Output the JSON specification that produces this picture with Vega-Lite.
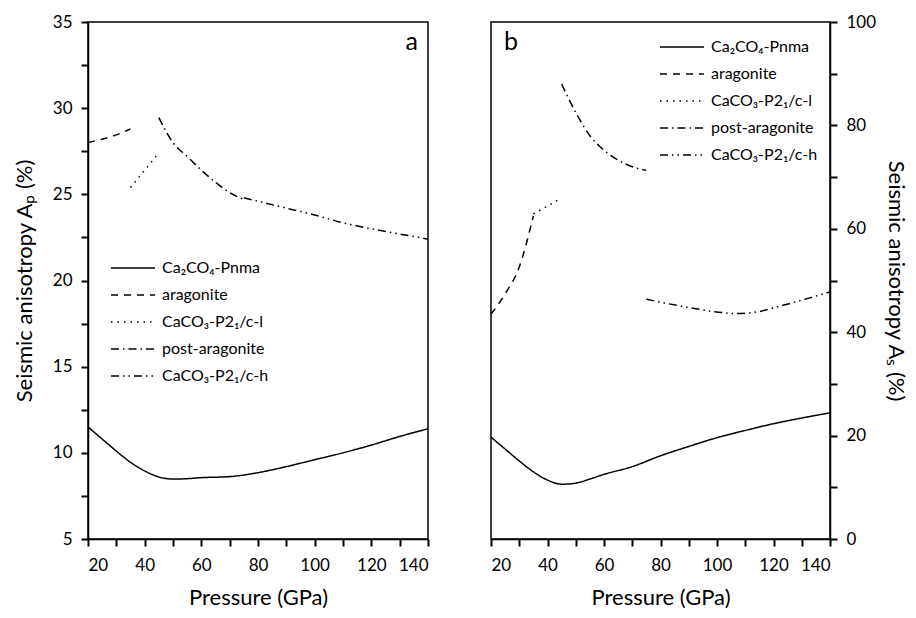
{
  "$schema": "https://vega.github.io/schema/vega-lite/v6.json",
  "padding": {"left": 12, "top": 12, "right": 4, "bottom": 4},
  "background": "white",
  "config": {
    "font": "Lato",
    "view": {"stroke": "black", "strokeWidth": 1.5},
    "axis": {
      "grid": false, "ticks": true, "domain": true, "zindex": 1,
      "domainColor": "black", "domainWidth": 1.5,
      "tickColor": "#000000", "tickWidth": 2, "tickSize": 7, "tickOpacity": 1,
      "labelColor": "black", "titleColor": "black",
      "labelFont": "Lato", "titleFont": "Lato",
      "labelFontSize": 17, "titleFontSize": 22, "titleFontWeight": "normal",
      "labelPadding": 9
    },
    "title": {"fontSize": 25, "fontWeight": "normal", "font": "Lato", "color": "black", "frame": "group", "offset": -42, "baseline": "alphabetic"},
    "legend": {
      "labelFont": "Lato", "labelFontSize": 16, "labelColor": "black",
      "symbolType": "stroke", "symbolSize": 1936, "symbolStrokeWidth": 1.5,
      "symbolStrokeColor": "black", "labelOffset": 6, "rowPadding": 11, "clipHeight": 16
    }
  },
  "datasets": {
    "a": [
      {"P": 20, "A": 11.5, "phase": "Ca₂CO₄-Pnma"},
      {"P": 25, "A": 10.8, "phase": "Ca₂CO₄-Pnma"},
      {"P": 30, "A": 10.1, "phase": "Ca₂CO₄-Pnma"},
      {"P": 35, "A": 9.45, "phase": "Ca₂CO₄-Pnma"},
      {"P": 40, "A": 8.95, "phase": "Ca₂CO₄-Pnma"},
      {"P": 45, "A": 8.6, "phase": "Ca₂CO₄-Pnma"},
      {"P": 50, "A": 8.48, "phase": "Ca₂CO₄-Pnma"},
      {"P": 55, "A": 8.5, "phase": "Ca₂CO₄-Pnma"},
      {"P": 60, "A": 8.56, "phase": "Ca₂CO₄-Pnma"},
      {"P": 70, "A": 8.62, "phase": "Ca₂CO₄-Pnma"},
      {"P": 80, "A": 8.85, "phase": "Ca₂CO₄-Pnma"},
      {"P": 90, "A": 9.2, "phase": "Ca₂CO₄-Pnma"},
      {"P": 100, "A": 9.6, "phase": "Ca₂CO₄-Pnma"},
      {"P": 110, "A": 10.0, "phase": "Ca₂CO₄-Pnma"},
      {"P": 120, "A": 10.45, "phase": "Ca₂CO₄-Pnma"},
      {"P": 130, "A": 10.95, "phase": "Ca₂CO₄-Pnma"},
      {"P": 140, "A": 11.4, "phase": "Ca₂CO₄-Pnma"},
      {"P": 20, "A": 28.0, "phase": "aragonite"},
      {"P": 25, "A": 28.2, "phase": "aragonite"},
      {"P": 30, "A": 28.45, "phase": "aragonite"},
      {"P": 35, "A": 28.8, "phase": "aragonite"},
      {"P": 35, "A": 25.4, "phase": "CaCO₃-P2₁/c-l"},
      {"P": 40, "A": 26.4, "phase": "CaCO₃-P2₁/c-l"},
      {"P": 45, "A": 27.4, "phase": "CaCO₃-P2₁/c-l"},
      {"P": 45, "A": 29.45, "phase": "post-aragonite"},
      {"P": 50, "A": 28.0, "phase": "post-aragonite"},
      {"P": 55, "A": 27.2, "phase": "post-aragonite"},
      {"P": 60, "A": 26.4, "phase": "post-aragonite"},
      {"P": 65, "A": 25.7, "phase": "post-aragonite"},
      {"P": 70, "A": 25.1, "phase": "post-aragonite"},
      {"P": 75, "A": 24.7, "phase": "post-aragonite"},
      {"P": 75, "A": 24.8, "phase": "CaCO₃-P2₁/c-h"},
      {"P": 80, "A": 24.6, "phase": "CaCO₃-P2₁/c-h"},
      {"P": 90, "A": 24.2, "phase": "CaCO₃-P2₁/c-h"},
      {"P": 100, "A": 23.8, "phase": "CaCO₃-P2₁/c-h"},
      {"P": 110, "A": 23.35, "phase": "CaCO₃-P2₁/c-h"},
      {"P": 120, "A": 23.0, "phase": "CaCO₃-P2₁/c-h"},
      {"P": 130, "A": 22.7, "phase": "CaCO₃-P2₁/c-h"},
      {"P": 140, "A": 22.4, "phase": "CaCO₃-P2₁/c-h"}
    ],
    "b": [
      {"P": 20, "A": 19.7, "phase": "Ca₂CO₄-Pnma"},
      {"P": 25, "A": 17.4, "phase": "Ca₂CO₄-Pnma"},
      {"P": 30, "A": 15.1, "phase": "Ca₂CO₄-Pnma"},
      {"P": 35, "A": 13.0, "phase": "Ca₂CO₄-Pnma"},
      {"P": 40, "A": 11.4, "phase": "Ca₂CO₄-Pnma"},
      {"P": 45, "A": 10.6, "phase": "Ca₂CO₄-Pnma"},
      {"P": 50, "A": 10.8, "phase": "Ca₂CO₄-Pnma"},
      {"P": 55, "A": 11.6, "phase": "Ca₂CO₄-Pnma"},
      {"P": 60, "A": 12.5, "phase": "Ca₂CO₄-Pnma"},
      {"P": 70, "A": 14.0, "phase": "Ca₂CO₄-Pnma"},
      {"P": 80, "A": 16.1, "phase": "Ca₂CO₄-Pnma"},
      {"P": 90, "A": 17.9, "phase": "Ca₂CO₄-Pnma"},
      {"P": 100, "A": 19.6, "phase": "Ca₂CO₄-Pnma"},
      {"P": 110, "A": 21.0, "phase": "Ca₂CO₄-Pnma"},
      {"P": 120, "A": 22.3, "phase": "Ca₂CO₄-Pnma"},
      {"P": 130, "A": 23.4, "phase": "Ca₂CO₄-Pnma"},
      {"P": 140, "A": 24.4, "phase": "Ca₂CO₄-Pnma"},
      {"P": 20, "A": 43.5, "phase": "aragonite"},
      {"P": 25, "A": 47.4, "phase": "aragonite"},
      {"P": 30, "A": 52.6, "phase": "aragonite"},
      {"P": 35, "A": 62.5, "phase": "aragonite"},
      {"P": 35, "A": 62.9, "phase": "CaCO₃-P2₁/c-l"},
      {"P": 40, "A": 64.4, "phase": "CaCO₃-P2₁/c-l"},
      {"P": 45, "A": 66.0, "phase": "CaCO₃-P2₁/c-l"},
      {"P": 45, "A": 88.0, "phase": "post-aragonite"},
      {"P": 50, "A": 82.5, "phase": "post-aragonite"},
      {"P": 55, "A": 78.0, "phase": "post-aragonite"},
      {"P": 60, "A": 75.2, "phase": "post-aragonite"},
      {"P": 65, "A": 73.3, "phase": "post-aragonite"},
      {"P": 70, "A": 72.0, "phase": "post-aragonite"},
      {"P": 75, "A": 71.3, "phase": "post-aragonite"},
      {"P": 75, "A": 46.4, "phase": "CaCO₃-P2₁/c-h"},
      {"P": 80, "A": 45.8, "phase": "CaCO₃-P2₁/c-h"},
      {"P": 90, "A": 44.8, "phase": "CaCO₃-P2₁/c-h"},
      {"P": 100, "A": 43.9, "phase": "CaCO₃-P2₁/c-h"},
      {"P": 107, "A": 43.6, "phase": "CaCO₃-P2₁/c-h"},
      {"P": 115, "A": 44.0, "phase": "CaCO₃-P2₁/c-h"},
      {"P": 120, "A": 44.7, "phase": "CaCO₃-P2₁/c-h"},
      {"P": 130, "A": 46.2, "phase": "CaCO₃-P2₁/c-h"},
      {"P": 140, "A": 47.8, "phase": "CaCO₃-P2₁/c-h"}
    ]
  },
  "spacing": 55,
  "resolve": {
    "scale": {"strokeDash": "independent", "y": "independent", "x": "independent"},
    "legend": {"strokeDash": "independent"},
    "axis": {"y": "independent", "x": "independent"}
  },
  "hconcat": [
    {
      "width": 340,
      "height": 517,
      "title": {"text": "a", "anchor": "end", "dx": -10},
      "data": {"name": "a"},
      "mark": {"type": "line", "color": "black", "strokeWidth": 1.5, "interpolate": "monotone"},
      "encoding": {
        "x": {
          "field": "P", "type": "quantitative",
          "scale": {"domain": [20, 140], "nice": false},
          "axis": {
            "title": "Pressure (GPa)", "titlePadding": 14, "labelPadding": 11,
            "values": [20, 30, 40, 50, 60, 70, 80, 90, 100, 110, 120, 130, 140],
            "labelOverlap": "parity", "labelSeparation": 8
          }
        },
        "y": {
          "field": "A", "type": "quantitative",
          "scale": {"domain": [5, 35], "nice": false},
          "axis": {
            "title": "Seismic anisotropy Aₚ (%)", "titlePadding": 16,
            "values": [5, 7.5, 10, 12.5, 15, 17.5, 20, 22.5, 25, 27.5, 30, 32.5, 35],
            "labelOverlap": "parity", "labelSeparation": 30
          }
        },
        "strokeDash": {
          "field": "phase", "type": "nominal",
          "scale": {
            "domain": ["Ca₂CO₄-Pnma", "aragonite", "CaCO₃-P2₁/c-l", "post-aragonite", "CaCO₃-P2₁/c-h"],
            "range": [[1, 0], [7, 6], [1.5, 5], [8, 4, 1.5, 4], [8, 4, 1.5, 4, 1.5, 4]]
          },
          "legend": {"title": null, "orient": "none", "legendX": 22, "legendY": 238}
        }
      }
    },
    {
      "width": 339,
      "height": 517,
      "title": {"text": "b", "anchor": "start", "dx": 13},
      "data": {"name": "b"},
      "mark": {"type": "line", "color": "black", "strokeWidth": 1.5, "interpolate": "monotone"},
      "encoding": {
        "x": {
          "field": "P", "type": "quantitative",
          "scale": {"domain": [20, 140], "nice": false},
          "axis": {
            "title": "Pressure (GPa)", "titlePadding": 14, "labelPadding": 11,
            "values": [20, 30, 40, 50, 60, 70, 80, 90, 100, 110, 120, 130, 140],
            "labelOverlap": "parity", "labelSeparation": 8
          }
        },
        "y": {
          "field": "A", "type": "quantitative",
          "scale": {"domain": [0, 100], "nice": false},
          "axis": {
            "orient": "right",
            "title": "Seismic anisotropy Aₛ (%)", "titlePadding": 8,
            "values": [0, 10, 20, 30, 40, 50, 60, 70, 80, 90, 100],
            "labelOverlap": "parity", "labelSeparation": 40
          }
        },
        "strokeDash": {
          "field": "phase", "type": "nominal",
          "scale": {
            "domain": ["Ca₂CO₄-Pnma", "aragonite", "CaCO₃-P2₁/c-l", "post-aragonite", "CaCO₃-P2₁/c-h"],
            "range": [[1, 0], [7, 6], [1.5, 5], [8, 4, 1.5, 4], [8, 4, 1.5, 4, 1.5, 4]]
          },
          "legend": {"title": null, "orient": "none", "legendX": 168, "legendY": 17}
        }
      }
    }
  ]
}
